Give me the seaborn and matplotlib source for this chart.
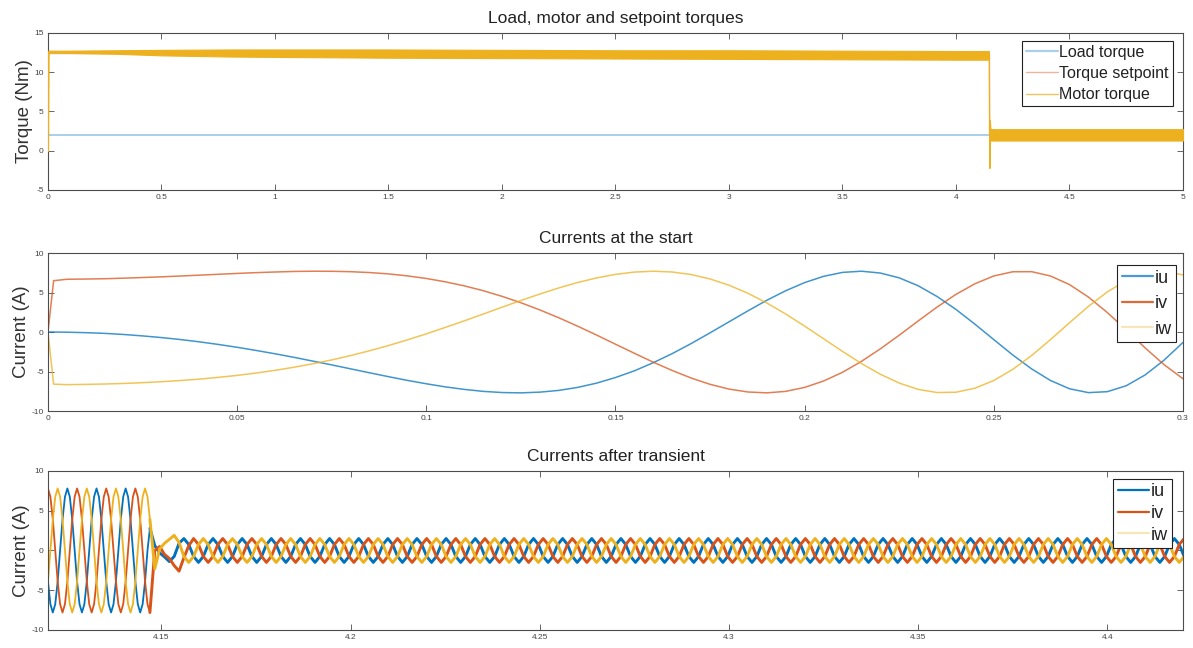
import numpy as np
import matplotlib
matplotlib.use('Agg')
import matplotlib.pyplot as plt
from matplotlib.lines import Line2D
from matplotlib.ticker import FuncFormatter
import seaborn as sns

sns.set_style('ticks')
plt.rcParams['font.family'] = ['Liberation Sans', 'DejaVu Sans']

# ── data: torques (top) ─────────────────────────────────────────────────
load_t = [0.0, 5.0]
load_val = [2.0, 2.0]
setp_t = [0.0, 4.147, 4.147, 5.0]
setp_val = [12.5, 12.5, 2.0, 2.0]
# motor torque is a noisy band -> upper / lower envelope
motor_t = [0.0, 0.0015, 0.1, 0.3, 0.5, 0.8, 1.0, 1.5, 2.0, 2.5, 3.0, 3.5, 4.0,
           4.145, 4.146, 4.1475, 4.149, 4.152, 4.16, 4.5, 5.0]
motor_hi = [0.0, 12.75, 12.75, 12.8, 12.85, 12.9, 12.9, 12.9, 12.85, 12.8, 12.8,
            12.75, 12.7, 12.7, 4.0, 1.0, 3.9, 2.8, 2.75, 2.75, 2.75]
motor_lo = [0.0, 12.5, 12.45, 12.35, 12.15, 12.0, 11.95, 11.85, 11.8, 11.75, 11.7,
            11.65, 11.6, 11.6, 2.0, -2.2, 1.4, 1.3, 1.3, 1.3, 1.3]

# ── data: currents at the start (middle) ──────────────────────────────
start_t = [0.0, 0.0015, 0.005, 0.01, 0.015, 0.02, 0.025, 0.03, 0.035, 0.04, 0.045,
           0.05, 0.055, 0.06, 0.065, 0.07, 0.075, 0.08, 0.085, 0.09, 0.095, 0.1,
           0.105, 0.11, 0.115, 0.12, 0.125, 0.13, 0.135, 0.14, 0.145, 0.15, 0.155,
           0.16, 0.165, 0.17, 0.175, 0.18, 0.185, 0.19, 0.195, 0.2, 0.205, 0.21,
           0.215, 0.22, 0.225, 0.23, 0.235, 0.24, 0.245, 0.25, 0.255, 0.26, 0.265,
           0.27, 0.275, 0.28, 0.285, 0.29, 0.295, 0.3]
start_iu = [0.0, 0.0, -0.02, -0.08, -0.17, -0.31, -0.49, -0.70, -0.95, -1.24, -1.57,
            -1.93, -2.33, -2.75, -3.20, -3.68, -4.16, -4.66, -5.16, -5.65, -6.12, -6.55,
            -6.94, -7.26, -7.51, -7.66, -7.70, -7.61, -7.39, -7.01, -6.47, -5.76, -4.91,
            -3.88, -2.73, -1.46, -0.10, 1.29, 2.68, 4.02, 5.23, 6.26, 7.05, 7.55,
            7.70, 7.47, 6.86, 5.86, 4.50, 2.86, 1.00, -0.96, -2.90, -4.67, -6.14,
            -7.18, -7.67, -7.55, -6.80, -5.43, -3.56, -1.32]
start_iv = [0.0, 6.5, 6.68, 6.71, 6.75, 6.82, 6.90, 6.99, 7.09, 7.20, 7.31,
            7.42, 7.52, 7.60, 7.67, 7.70, 7.69, 7.64, 7.53, 7.36, 7.11, 6.78,
            6.36, 5.85, 5.24, 4.52, 3.71, 2.80, 1.81, 0.74, -0.38, -1.54, -2.69,
            -3.82, -4.87, -5.82, -6.62, -7.22, -7.59, -7.70, -7.51, -7.01, -6.20, -5.10,
            -3.72, -2.13, -0.40, 1.40, 3.16, 4.77, 6.11, 7.10, 7.63, 7.64, 7.09,
            6.01, 4.43, 2.47, 0.26, -2.01, -4.13, -5.91]
start_iw = [0.0, -6.6, -6.66, -6.63, -6.58, -6.51, -6.41, -6.29, -6.14, -5.96, -5.74,
            -5.49, -5.19, -4.85, -4.46, -4.02, -3.53, -2.98, -2.37, -1.71, -0.99, -0.23,
            0.58, 1.41, 2.27, 3.14, 3.99, 4.81, 5.58, 6.27, 6.85, 7.30, 7.59,
            7.70, 7.60, 7.28, 6.72, 5.93, 4.91, 3.68, 2.28, 0.75, -0.85, -2.45,
            -3.98, -5.34, -6.46, -7.26, -7.66, -7.62, -7.11, -6.13, -4.73, -2.97, -0.95,
            1.17, 3.24, 5.08, 6.53, 7.44, 7.69, 7.23]

# ── data: currents after transient (bottom) ────────────────────────────
# electrical period read off the plot ~ 7.7 ms
# before the load step: samples every T/12, after it: samples every T/6
after_t0 = 4.12
after_period = 0.0077
pre_iu = [
    -3.9, -6.75, -7.8, -6.75, -3.9, 0.0, 3.9, 6.75, 7.8, 6.75, 3.9, 0.0,
    -3.9, -6.75, -7.8, -6.75, -3.9, 0.0, 3.9, 6.75, 7.8, 6.75, 3.9, 0.0,
    -3.9, -6.75, -7.8, -6.75, -3.9, 0.0, 3.9, 6.75, 7.8, 6.75, 3.9, 0.0,
    -3.9, -6.75, -7.8, -6.75, -3.9, 0.0]
pre_iv = [
    7.8, 6.75, 3.9, 0.0, -3.9, -6.75, -7.8, -6.75, -3.9, 0.0, 3.9, 6.75,
    7.8, 6.75, 3.9, 0.0, -3.9, -6.75, -7.8, -6.75, -3.9, 0.0, 3.9, 6.75,
    7.8, 6.75, 3.9, 0.0, -3.9, -6.75, -7.8, -6.75, -3.9, 0.0, 3.9, 6.75,
    7.8, 6.75, 3.9, 0.0, -3.9, -6.75]
pre_iw = [
    -3.9, 0.0, 3.9, 6.75, 7.8, 6.75, 3.9, 0.0, -3.9, -6.75, -7.8, -6.75,
    -3.9, 0.0, 3.9, 6.75, 7.8, 6.75, 3.9, 0.0, -3.9, -6.75, -7.8, -6.75,
    -3.9, 0.0, 3.9, 6.75, 7.8, 6.75, 3.9, 0.0, -3.9, -6.75, -7.8, -6.75,
    -3.9, 0.0, 3.9, 6.75, 7.8, 6.75]
post_iu = [
    2.8, 0.6, -0.3, -0.8, -1.4, -0.75, 0.9, 1.5, 0.75,
    -0.75, -1.5, -0.75, 0.75, 1.5, 0.75, -0.75, -1.5, -0.75, 0.75, 1.5, 0.75,
    -0.75, -1.5, -0.75, 0.75, 1.5, 0.75, -0.75, -1.5, -0.75, 0.75, 1.5, 0.75,
    -0.75, -1.5, -0.75, 0.75, 1.5, 0.75, -0.75, -1.5, -0.75, 0.75, 1.5, 0.75,
    -0.75, -1.5, -0.75, 0.75, 1.5, 0.75, -0.75, -1.5, -0.75, 0.75, 1.5, 0.75,
    -0.75, -1.5, -0.75, 0.75, 1.5, 0.75, -0.75, -1.5, -0.75, 0.75, 1.5, 0.75,
    -0.75, -1.5, -0.75, 0.75, 1.5, 0.75, -0.75, -1.5, -0.75, 0.75, 1.5, 0.75,
    -0.75, -1.5, -0.75, 0.75, 1.5, 0.75, -0.75, -1.5, -0.75, 0.75, 1.5, 0.75,
    -0.75, -1.5, -0.75, 0.75, 1.5, 0.75, -0.75, -1.5, -0.75, 0.75, 1.5, 0.75,
    -0.75, -1.5, -0.75, 0.75, 1.5, 0.75, -0.75, -1.5, -0.75, 0.75, 1.5, 0.75,
    -0.75, -1.5, -0.75, 0.75, 1.5, 0.75, -0.75, -1.5, -0.75, 0.75, 1.5, 0.75,
    -0.75, -1.5, -0.75, 0.75, 1.5, 0.75, -0.75, -1.5, -0.75, 0.75, 1.5, 0.75,
    -0.75, -1.5, -0.75, 0.75, 1.5, 0.75, -0.75, -1.5, -0.75, 0.75, 1.5, 0.75,
    -0.75, -1.5, -0.75, 0.75, 1.5, 0.75, -0.75, -1.5, -0.75, 0.75, 1.5, 0.75,
    -0.75, -1.5, -0.75, 0.75, 1.5, 0.75, -0.75, -1.5, -0.75, 0.75, 1.5, 0.75,
    -0.75, -1.5, -0.75, 0.75, 1.5, 0.75, -0.75, -1.5, -0.75, 0.75, 1.5, 0.75,
    -0.75, -1.5, -0.75, 0.75, 1.5, 0.75, -0.75, -1.5, -0.75, 0.75, 1.5, 0.75,
    -0.75, -1.5, -0.75, 0.75, 1.5, 0.75, -0.75, -1.5, -0.75, 0.75, 1.5, 0.75,
    -0.75]
post_iv = [
    -7.8, 0.0, 0.5, -0.5, -1.0, -1.9, -2.6, -0.9, 0.6,
    1.5, 0.75, -0.75, -1.5, -0.75, 0.75, 1.5, 0.75, -0.75, -1.5, -0.75, 0.75,
    1.5, 0.75, -0.75, -1.5, -0.75, 0.75, 1.5, 0.75, -0.75, -1.5, -0.75, 0.75,
    1.5, 0.75, -0.75, -1.5, -0.75, 0.75, 1.5, 0.75, -0.75, -1.5, -0.75, 0.75,
    1.5, 0.75, -0.75, -1.5, -0.75, 0.75, 1.5, 0.75, -0.75, -1.5, -0.75, 0.75,
    1.5, 0.75, -0.75, -1.5, -0.75, 0.75, 1.5, 0.75, -0.75, -1.5, -0.75, 0.75,
    1.5, 0.75, -0.75, -1.5, -0.75, 0.75, 1.5, 0.75, -0.75, -1.5, -0.75, 0.75,
    1.5, 0.75, -0.75, -1.5, -0.75, 0.75, 1.5, 0.75, -0.75, -1.5, -0.75, 0.75,
    1.5, 0.75, -0.75, -1.5, -0.75, 0.75, 1.5, 0.75, -0.75, -1.5, -0.75, 0.75,
    1.5, 0.75, -0.75, -1.5, -0.75, 0.75, 1.5, 0.75, -0.75, -1.5, -0.75, 0.75,
    1.5, 0.75, -0.75, -1.5, -0.75, 0.75, 1.5, 0.75, -0.75, -1.5, -0.75, 0.75,
    1.5, 0.75, -0.75, -1.5, -0.75, 0.75, 1.5, 0.75, -0.75, -1.5, -0.75, 0.75,
    1.5, 0.75, -0.75, -1.5, -0.75, 0.75, 1.5, 0.75, -0.75, -1.5, -0.75, 0.75,
    1.5, 0.75, -0.75, -1.5, -0.75, 0.75, 1.5, 0.75, -0.75, -1.5, -0.75, 0.75,
    1.5, 0.75, -0.75, -1.5, -0.75, 0.75, 1.5, 0.75, -0.75, -1.5, -0.75, 0.75,
    1.5, 0.75, -0.75, -1.5, -0.75, 0.75, 1.5, 0.75, -0.75, -1.5, -0.75, 0.75,
    1.5, 0.75, -0.75, -1.5, -0.75, 0.75, 1.5, 0.75, -0.75, -1.5, -0.75, 0.75,
    1.5, 0.75, -0.75, -1.5, -0.75, 0.75, 1.5, 0.75, -0.75, -1.5, -0.75, 0.75,
    1.5]
post_iw = [
    3.9, -2.3, 0.2, 0.9, 1.4, 1.9, 1.0, -0.75, -1.5,
    -0.75, 0.75, 1.5, 0.75, -0.75, -1.5, -0.75, 0.75, 1.5, 0.75, -0.75, -1.5,
    -0.75, 0.75, 1.5, 0.75, -0.75, -1.5, -0.75, 0.75, 1.5, 0.75, -0.75, -1.5,
    -0.75, 0.75, 1.5, 0.75, -0.75, -1.5, -0.75, 0.75, 1.5, 0.75, -0.75, -1.5,
    -0.75, 0.75, 1.5, 0.75, -0.75, -1.5, -0.75, 0.75, 1.5, 0.75, -0.75, -1.5,
    -0.75, 0.75, 1.5, 0.75, -0.75, -1.5, -0.75, 0.75, 1.5, 0.75, -0.75, -1.5,
    -0.75, 0.75, 1.5, 0.75, -0.75, -1.5, -0.75, 0.75, 1.5, 0.75, -0.75, -1.5,
    -0.75, 0.75, 1.5, 0.75, -0.75, -1.5, -0.75, 0.75, 1.5, 0.75, -0.75, -1.5,
    -0.75, 0.75, 1.5, 0.75, -0.75, -1.5, -0.75, 0.75, 1.5, 0.75, -0.75, -1.5,
    -0.75, 0.75, 1.5, 0.75, -0.75, -1.5, -0.75, 0.75, 1.5, 0.75, -0.75, -1.5,
    -0.75, 0.75, 1.5, 0.75, -0.75, -1.5, -0.75, 0.75, 1.5, 0.75, -0.75, -1.5,
    -0.75, 0.75, 1.5, 0.75, -0.75, -1.5, -0.75, 0.75, 1.5, 0.75, -0.75, -1.5,
    -0.75, 0.75, 1.5, 0.75, -0.75, -1.5, -0.75, 0.75, 1.5, 0.75, -0.75, -1.5,
    -0.75, 0.75, 1.5, 0.75, -0.75, -1.5, -0.75, 0.75, 1.5, 0.75, -0.75, -1.5,
    -0.75, 0.75, 1.5, 0.75, -0.75, -1.5, -0.75, 0.75, 1.5, 0.75, -0.75, -1.5,
    -0.75, 0.75, 1.5, 0.75, -0.75, -1.5, -0.75, 0.75, 1.5, 0.75, -0.75, -1.5,
    -0.75, 0.75, 1.5, 0.75, -0.75, -1.5, -0.75, 0.75, 1.5, 0.75, -0.75, -1.5,
    -0.75, 0.75, 1.5, 0.75, -0.75, -1.5, -0.75, 0.75, 1.5, 0.75, -0.75, -1.5,
    -0.75]
pre_t = after_t0 + np.arange(len(pre_iu)) * after_period / 12
post_t = after_t0 + (len(pre_iu) // 2 + np.arange(len(post_iu))) * after_period / 6

BLUE, RED, YEL = '#0072BD', '#D95319', '#EDB120'
EDGE = '#4d4d4d'


def matlab_axes(ax, xlim, ylim, xticks, yticks, title, ylabel):
    ax.set_xlim(*xlim)
    ax.set_ylim(*ylim)
    ax.set_xticks(xticks)
    ax.set_yticks(yticks)
    fmt = FuncFormatter(lambda v, p: f'{v:g}')
    ax.xaxis.set_major_formatter(fmt)
    ax.yaxis.set_major_formatter(fmt)
    ax.tick_params(direction='in', top=True, right=True, length=4, width=0.6,
                   color=EDGE, labelcolor='#444444', labelsize=6, pad=3)
    for s in ax.spines.values():
        s.set_visible(True)
        s.set_color(EDGE)
        s.set_linewidth(0.8)
    ax.set_title(title, fontsize=12.5, color='#222222', pad=7)
    ax.set_ylabel(ylabel, fontsize=13.5, color='#333333', labelpad=1)
    ax.set_xlabel('')


def box_legend(ax, handles, labels, anchor, fontsize, spacing, hlen):
    leg = ax.legend(handles, labels, loc='upper right', bbox_to_anchor=anchor,
                    borderaxespad=0, fontsize=fontsize, frameon=True, fancybox=False,
                    framealpha=1, edgecolor='#222222', handlelength=hlen,
                    handletextpad=0.1, labelspacing=spacing, borderpad=0.25)
    leg.get_frame().set_linewidth(0.8)
    for t in leg.get_texts():
        t.set_color('#222222')


fig = plt.figure(figsize=(11.93, 6.48), dpi=100)
ax1 = fig.add_axes([0.0402, 0.7068, 0.9514, 0.2423])
ax2 = fig.add_axes([0.0402, 0.3657, 0.9514, 0.2438])
ax3 = fig.add_axes([0.0402, 0.0278, 0.9514, 0.2454])

# ── 1. torques ─────────────────────────────────────────────────────────
sns.lineplot(x=load_t, y=load_val, ax=ax1, color='#a9cfec', lw=1.4, zorder=1)
sns.lineplot(x=setp_t, y=setp_val, ax=ax1, color='#f3b39b', lw=1.0, sort=False,
             estimator=None, zorder=2)
ax1.fill_between(motor_t, motor_lo, motor_hi, color=YEL, lw=0.8, edgecolor=YEL,
                 zorder=3)
matlab_axes(ax1, (0, 5), (-5, 15), np.arange(0, 5.01, 0.5), [-5, 0, 5, 10, 15],
            'Load, motor and setpoint torques', 'Torque (Nm)')
box_legend(ax1,
           [Line2D([], [], color='#a9cfec', lw=1.6),
            Line2D([], [], color='#f3b39b', lw=1.0),
            Line2D([], [], color='#f0c560', lw=1.0)],
           ['Load torque', 'Torque setpoint', 'Motor torque'],
           (1 - 10 / 1135, 1 - 8 / 157), 11.5, 0.38, 2.0)

# ── 2. currents at the start ──────────────────────────────────────────
for vals, col in [(start_iu, BLUE), (start_iv, RED), (start_iw, YEL)]:
    sns.lineplot(x=start_t, y=vals, ax=ax2, color=col, lw=1.1, alpha=0.75,
                 sort=False, estimator=None)
matlab_axes(ax2, (0, 0.3), (-10, 10), np.arange(0, 0.301, 0.05), [-10, -5, 0, 5, 10],
            'Currents at the start', 'Current (A)')
box_legend(ax2,
           [Line2D([], [], color='#4a9ad6', lw=1.6),
            Line2D([], [], color='#e0683a', lw=1.6),
            Line2D([], [], color='#f8e6b8', lw=1.6)],
           ['iu', 'iv', 'iw'], (1 - 7 / 1135, 1 - 12 / 158), 13, 0.47, 1.7)

# ── 3. currents after transient ───────────────────────────────────────
for pre, post, col in [(pre_iu, post_iu, BLUE), (pre_iv, post_iv, RED),
                       (pre_iw, post_iw, YEL)]:
    sns.lineplot(x=list(pre_t) + [post_t[0]], y=pre + post[:1], ax=ax3, color=col,
                 lw=1.3, sort=False, estimator=None)
    sns.lineplot(x=post_t, y=post, ax=ax3, color=col, lw=2.1, sort=False,
                 estimator=None)
matlab_axes(ax3, (4.12, 4.42), (-10, 10), [4.15, 4.2, 4.25, 4.3, 4.35, 4.4],
            [-10, -5, 0, 5, 10], 'Currents after transient', 'Current (A)')
box_legend(ax3,
           [Line2D([], [], color=BLUE, lw=1.6),
            Line2D([], [], color=RED, lw=1.6),
            Line2D([], [], color='#f8e6b8', lw=1.6)],
           ['iu', 'iv', 'iw'], (1 - 11 / 1135, 1 - 8 / 159), 13, 0.25, 1.7)

fig.savefig('out.png', dpi=100)
